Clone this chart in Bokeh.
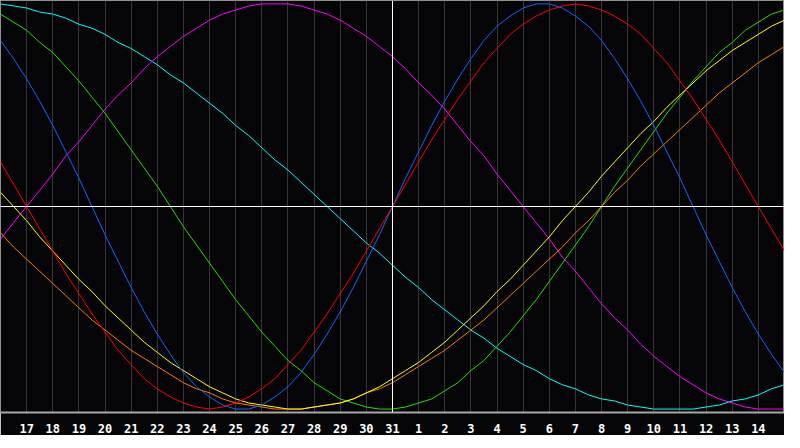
from bokeh.plotting import figure
from bokeh.models import Range1d, FixedTicker, Span
from bokeh.embed import file_html
from bokeh.resources import INLINE

# half-day steps from the centre day (31st): left edge = 16th, right edge = 15th
days = [h / 2 for h in range(-30, 31)]
tick_days = list(range(-14, 15))
tick_labels = ["17", "18", "19", "20", "21", "22", "23", "24", "25", "26",
               "27", "28", "29", "30", "31", "1", "2", "3", "4", "5",
               "6", "7", "8", "9", "10", "11", "12", "13", "14"]

# values, -1 .. 1, every half day
red = [0.22, 0.11, 0.00, -0.11, -0.22, -0.33, -0.43, -0.53, -0.62, -0.71,
       -0.78, -0.85, -0.90, -0.94, -0.97, -0.99, -1.00, -0.99, -0.97, -0.94,
       -0.90, -0.85, -0.78, -0.71, -0.62, -0.53, -0.43, -0.33, -0.22, -0.11,
       0.00, 0.11, 0.22, 0.33, 0.43, 0.53, 0.62, 0.71, 0.78, 0.85,
       0.90, 0.94, 0.97, 0.99, 1.00, 0.99, 0.97, 0.94, 0.90, 0.85,
       0.78, 0.71, 0.62, 0.53, 0.43, 0.33, 0.22, 0.11, 0.00, -0.11, -0.22]
blue = [0.82, 0.73, 0.63, 0.52, 0.40, 0.27, 0.14, 0.00, -0.14, -0.27,
        -0.40, -0.52, -0.63, -0.73, -0.82, -0.89, -0.94, -0.98, -1.00, -1.00,
        -0.98, -0.94, -0.89, -0.82, -0.73, -0.63, -0.52, -0.40, -0.27, -0.14,
        0.00, 0.14, 0.27, 0.40, 0.52, 0.63, 0.73, 0.82, 0.89, 0.94,
        0.98, 1.00, 1.00, 0.98, 0.94, 0.89, 0.82, 0.73, 0.63, 0.52,
        0.40, 0.27, 0.14, 0.00, -0.14, -0.27, -0.40, -0.52, -0.63, -0.73, -0.82]
green = [0.95, 0.91, 0.87, 0.81, 0.76, 0.69, 0.62, 0.54, 0.46, 0.37,
         0.28, 0.19, 0.10, 0.00, -0.10, -0.19, -0.28, -0.37, -0.46, -0.54,
         -0.62, -0.69, -0.76, -0.81, -0.87, -0.91, -0.95, -0.97, -0.99, -1.00,
         -1.00, -0.99, -0.97, -0.95, -0.91, -0.87, -0.81, -0.76, -0.69, -0.62,
         -0.54, -0.46, -0.37, -0.28, -0.19, -0.10, 0.00, 0.10, 0.19, 0.28,
         0.37, 0.46, 0.54, 0.62, 0.69, 0.76, 0.81, 0.87, 0.91, 0.95, 0.97]
cyan = [1.00, 0.99, 0.98, 0.96, 0.95, 0.93, 0.90, 0.88, 0.85, 0.81,
        0.78, 0.74, 0.70, 0.65, 0.61, 0.56, 0.51, 0.46, 0.40, 0.35,
        0.29, 0.23, 0.18, 0.12, 0.06, 0.00, -0.06, -0.12, -0.18, -0.23,
        -0.29, -0.35, -0.40, -0.46, -0.51, -0.56, -0.61, -0.65, -0.70, -0.74,
        -0.78, -0.81, -0.85, -0.88, -0.90, -0.93, -0.95, -0.96, -0.98, -0.99,
        -1.00, -1.00, -1.00, -1.00, -0.99, -0.98, -0.96, -0.95, -0.93, -0.90, -0.88]
magenta = [-0.16, -0.08, 0.00, 0.08, 0.16, 0.25, 0.32, 0.40, 0.48, 0.55,
           0.61, 0.68, 0.74, 0.79, 0.84, 0.88, 0.92, 0.95, 0.97, 0.99,
           1.00, 1.00, 1.00, 0.99, 0.97, 0.95, 0.92, 0.88, 0.84, 0.79,
           0.74, 0.68, 0.61, 0.55, 0.48, 0.40, 0.32, 0.25, 0.16, 0.08,
           0.00, -0.08, -0.16, -0.25, -0.32, -0.40, -0.48, -0.55, -0.61, -0.68,
           -0.74, -0.79, -0.84, -0.88, -0.92, -0.95, -0.97, -0.99, -1.00, -1.00, -1.00]
yellow = [0.07, 0.00, -0.07, -0.15, -0.22, -0.29, -0.36, -0.42, -0.49, -0.55,
          -0.61, -0.67, -0.72, -0.77, -0.81, -0.85, -0.89, -0.92, -0.95, -0.97,
          -0.98, -0.99, -1.00, -1.00, -0.99, -0.98, -0.97, -0.95, -0.92, -0.89,
          -0.85, -0.81, -0.77, -0.72, -0.67, -0.61, -0.55, -0.49, -0.42, -0.36,
          -0.29, -0.22, -0.15, -0.07, 0.00, 0.07, 0.15, 0.22, 0.29, 0.36,
          0.42, 0.49, 0.55, 0.61, 0.67, 0.72, 0.77, 0.81, 0.85, 0.89, 0.92]
orange = [-0.13, -0.20, -0.26, -0.32, -0.38, -0.44, -0.50, -0.56, -0.61, -0.66,
          -0.71, -0.75, -0.79, -0.83, -0.87, -0.90, -0.92, -0.95, -0.97, -0.98,
          -0.99, -1.00, -1.00, -1.00, -0.99, -0.98, -0.97, -0.95, -0.92, -0.90,
          -0.87, -0.83, -0.79, -0.75, -0.71, -0.66, -0.61, -0.56, -0.50, -0.44,
          -0.38, -0.32, -0.26, -0.20, -0.13, -0.07, 0.00, 0.07, 0.13, 0.20,
          0.26, 0.32, 0.38, 0.44, 0.50, 0.56, 0.61, 0.66, 0.71, 0.75, 0.79]

BG = "#050507"

p = figure(frame_width=784, frame_height=412,
           x_range=Range1d(-15, 15), y_range=Range1d(-1.017, 1.017),
           output_backend="svg", toolbar_location=None, min_border=0,
           background_fill_color=BG, border_fill_color=BG)

p.outline_line_color = "#909090"
p.yaxis.visible = False
p.ygrid.visible = False

p.xgrid.ticker = FixedTicker(ticks=tick_days)
p.xgrid.grid_line_color = "#363636"

p.xaxis.ticker = FixedTicker(ticks=tick_days)
p.xaxis.major_label_overrides = {d: lab for d, lab in zip(tick_days, tick_labels)}
p.xaxis.major_tick_line_color = None
p.xaxis.minor_tick_line_color = None
p.xaxis.axis_line_color = "#a8a8a8"
p.xaxis.axis_line_width = 2
p.xaxis.major_label_standoff = 5
p.xaxis.major_label_text_color = "white"
p.xaxis.major_label_text_font = "DejaVu Sans Mono"
p.xaxis.major_label_text_font_style = "bold"
p.xaxis.major_label_text_font_size = "12px"

p.add_layout(Span(location=0, dimension="height", line_color="white", line_width=1))
p.add_layout(Span(location=0, dimension="width", line_color="white", line_width=1))

p.line(days, cyan, line_color="#00ffff", line_width=1)
p.line(days, magenta, line_color="#ff00ff", line_width=1)
p.line(days, green, line_color="#22e000", line_width=1)
p.line(days, orange, line_color="#ff7a00", line_width=1)
p.line(days, yellow, line_color="#ffff00", line_width=1)
p.line(days, blue, line_color="#1464ff", line_width=1)
p.line(days, red, line_color="#ff0000", line_width=1)

open("out.html", "w").write(file_html(p, INLINE))
